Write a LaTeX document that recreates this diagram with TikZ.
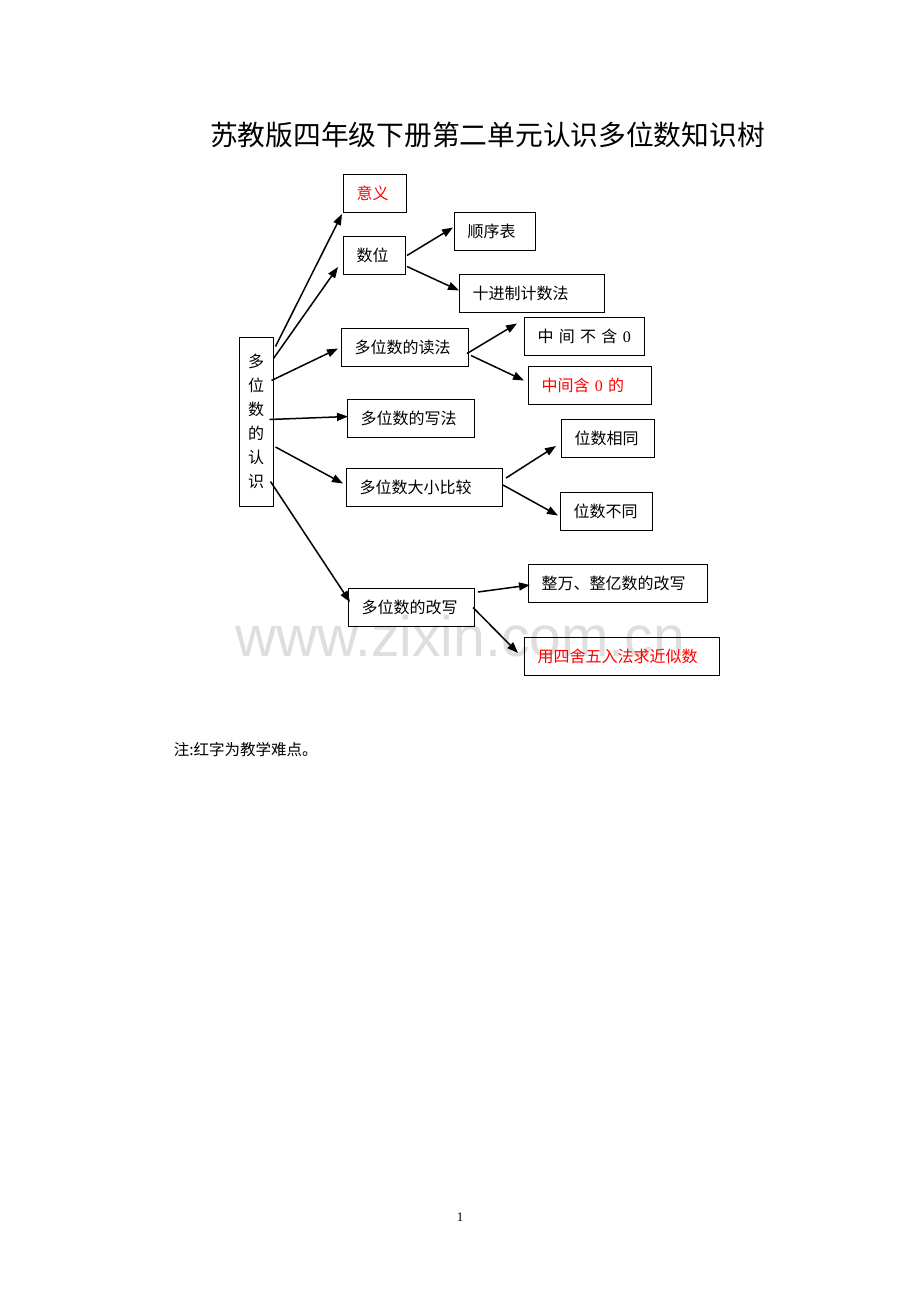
\documentclass[tikz,border=0pt]{standalone}
\usepackage{fontspec}
\setmainfont{Liberation Serif}
\newfontfamily\cjk{Noto Sans CJK SC}
\newfontfamily\wmfont{Liberation Sans}
\usetikzlibrary{arrows.meta}

\begin{document}
\begin{tikzpicture}[x=1pt, y=-1pt, >={Triangle[length=11pt,width=8pt]}, line width=1.5pt,
        box/.style={draw, anchor=north west, line width=1pt, minimum height=38pt,
            inner xsep=13pt, inner ysep=0pt, align=left, font={\cjk\fontsize{16}{19}\selectfont}},
        hard/.style={text=red}]
        \fill[white] (0,0) rectangle (920,1302);
        \useasboundingbox (0,0) rectangle (920,1302);
        \node[text=black!13, font={\wmfont\fontsize{57}{60}\selectfont}] (wm) at (460,636) {www.zixin.com.cn};
        \node[font={\cjk\fontsize{27.75}{30}\selectfont}] (title) at (487.5,135) {苏教版四年级下册第二单元认识多位数知识树};
        % root
        \node[draw, line width=1pt, minimum width=34pt, minimum height=169pt, inner sep=0pt,
            align=center, font={\cjk\fontsize{16}{24}\selectfont}] (main) at (256,421.5) {多\\位\\数\\的\\认\\识};
        % first level
        \node[box, hard, text width=37pt] (yiyi) at (343,174) {意义};
        \node[box, text width=36pt] (shuwei) at (343,236) {数位};
        \node[box, text width=101pt] (dufa) at (341,328) {多位数的读法};
        \node[box, text width=101pt] (xiefa) at (347,399) {多位数的写法};
        \node[box, text width=130pt] (bijiao) at (346,468) {多位数大小比较};
        \node[box, text width=100pt] (gaixie) at (348,588) {多位数的改写};
        \draw [->] ([shift={(2,10)}]main.north east) -- ([shift={(-1,1)}]yiyi.south west);
        \draw [->] ([shift={(0,22)}]main.north east) -- ([shift={(-5,-8)}]shuwei.south west);
        \draw [->] ([shift={(-2,44)}]main.north east) -- ([shift={(-3,1)}]dufa.west);
        \draw [->] ([shift={(-4,-2)}]main.east) -- ([shift={(1,-2)}]xiefa.west);
        \draw [->] ([shift={(2,25.5)}]main.east) -- ([shift={(-3,-4)}]bijiao.west);
        \draw [->] ([shift={(-3,60)}]main.east) -- ([shift={(2,14)}]gaixie.north west);
        % second level
        \node[box, text width=55pt] (shunxu) at (454,212) {顺序表};
        \node[box, text width=119pt] (shijin) at (459,274) {十进制计数法};
        \draw [->] ([shift={(1,0)}]shuwei.east) -- ([shift={(-1,-4)}]shunxu.west);
        \draw [->] ([shift={(1,11)}]shuwei.east) -- ([shift={(0,-3)}]shijin.west);
        \node[box, text width=94pt] (buhan) at (524,317) {中 间 不 含 \textrm{0}};
        \node[box, hard, text width=97pt] (han) at (528,366) {中间含 \textrm{0} 的};
        \draw [->] ([shift={(-2,6)}]dufa.east) -- ([shift={(-7,-13)}]buhan.west);
        \draw [->] ([shift={(2,8)}]dufa.east) -- ([shift={(-4,-5)}]han.west);
        \node[box, text width=67pt] (xiangtong) at (561,419) {位数相同};
        \node[box, text width=66pt] (butong) at (560,492) {位数不同};
        \draw [->] ([shift={(3,-9.5)}]bijiao.east) -- ([shift={(-5,7.5)}]xiangtong.west);
        \draw [->] ([shift={(0,-2.5)}]bijiao.east) -- ([shift={(-2,4)}]butong.west);
        \node[box, text width=153pt] (zhengwan) at (528,564) {整万、整亿数的改写};
        \node[box, hard, text width=169pt] (jinsi) at (524,637) {用四舍五入法求近似数};
        \draw [->] ([shift={(3,-15.5)}]gaixie.east) -- ([shift={(2,1.5)}]zhengwan.west);
        \draw [->] ([shift={(-2,0)}]gaixie.east) -- ([shift={(-6,-3.5)}]jinsi.west);
        % footer
        \node[anchor=west, inner sep=0pt, font={\cjk\fontsize{15.5}{18}\selectfont}] (note) at (173,750) {注:红字为教学难点。};
        \node[font={\fontsize{13}{15}\selectfont}] (page) at (460,1217) {1};
\end{tikzpicture}
\end{document}
